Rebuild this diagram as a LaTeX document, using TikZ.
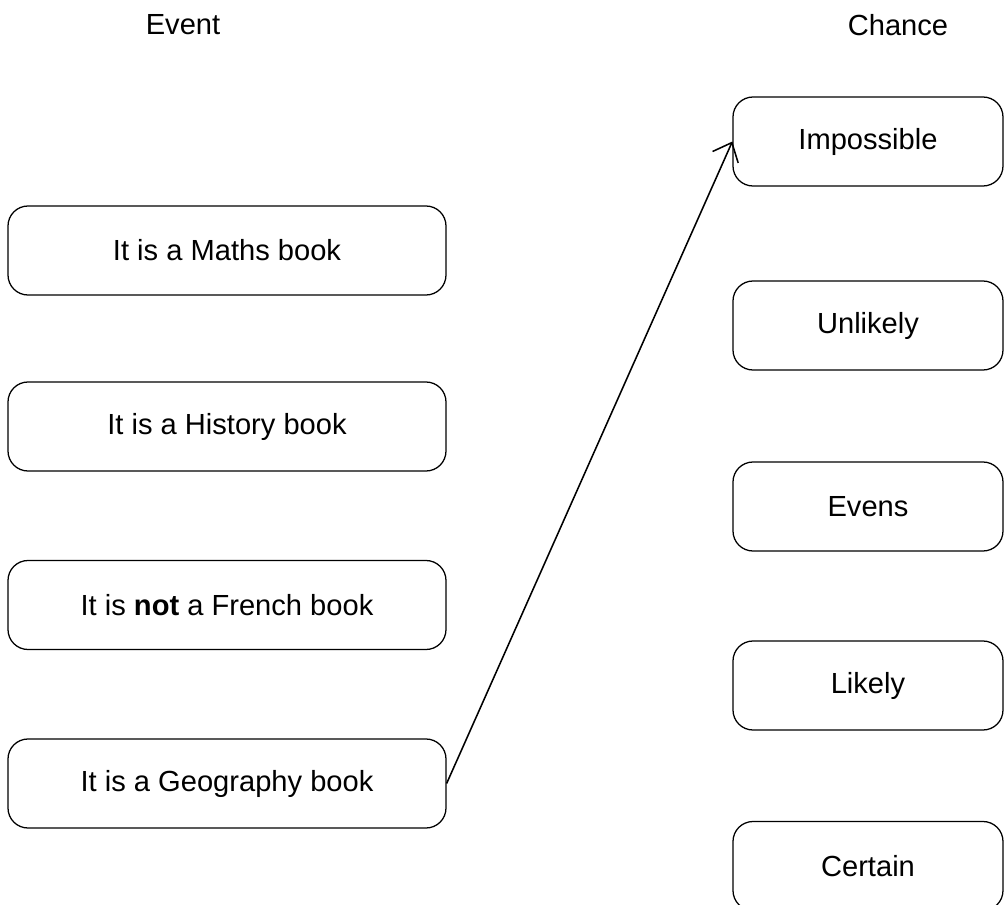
\documentclass[tikz,border=0pt]{standalone}
\usepackage{fontspec}
\setmainfont{Liberation Sans}
\usepackage{tikz}
\usetikzlibrary{arrows.meta}

\begin{document}
\begin{tikzpicture}[
		font=\fontsize{20.7}{24}\selectfont,
		event/.style={draw,line width=0.9pt,rounded corners=0.5cm,minimum width=10.95cm,minimum height=2.225cm,inner sep=0pt},
		chance/.style={draw,line width=0.9pt,rounded corners=0.5cm,minimum width=6.75cm,minimum height=2.225cm,inner sep=0pt}
	]
		\useasboundingbox (0,0) rectangle (25.1,-22.625);
		\node(EvHead) at (4.575,-0.625) {Event};
		\node(ChHead) at (22.45,-0.625) {Chance};
		
		\node[event](Maths) at (5.675,-6.2625) {It is a Maths book};
		\node[event](History) at (5.675,-10.6625) {It is a History book};
		\node[event](French) at (5.675,-15.125) {It is \textbf{not} a French book};
		\node[event](Geog) at (5.675,-19.5875) {It is a Geography book};
		
		\node[chance](Imp) at (21.7,-3.5375) {Impossible};
		\node[chance](Unl) at (21.7,-8.1375) {Unlikely};
		\node[chance](Evens) at (21.7,-12.6625) {Evens};
		\node[chance](Lik) at (21.7,-17.1375) {Likely};
		\node[chance](Cert) at (21.7,-21.65) {Certain};
		
		\draw[-{Straight Barb[length=4mm,width=7mm]},line width=1.1pt] (Geog.east) -- (Imp.west);
	\end{tikzpicture}
\end{document}
